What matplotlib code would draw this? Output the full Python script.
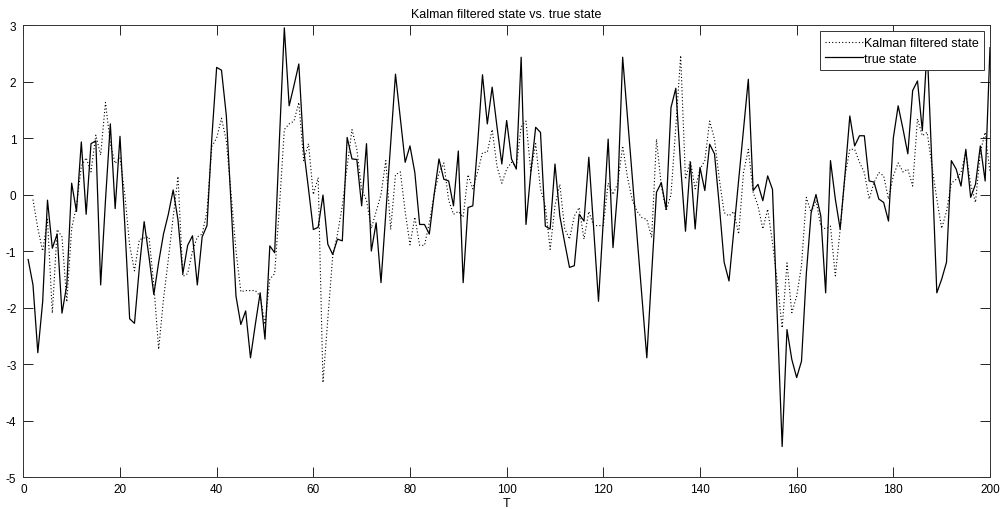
import numpy as np
import matplotlib.pyplot as plt

t = np.arange(1, 201)

# true state
true_state = [
    -1.15, -1.6, -2.8, -1.9, -0.1, -0.95, -0.7, -2.1, -1.6, 0.2,
    -0.3, 0.93, -0.35, 0.9, 0.95, -1.6, -0.1, 1.25, -0.25, 1.03,
    -0.55, -2.2, -2.28, -1.3, -0.48, -1.1, -1.77, -1.2, -0.7, -0.35,
    0.08, -0.45, -1.4, -0.9, -0.73, -1.6, -0.75, -0.55, 1.0, 2.25,
    2.2, 1.4, -0.2, -1.8, -2.3, -2.06, -2.89, -2.3, -1.74, -2.56,
    -0.91, -1.03, 1.0, 2.95, 1.57, 1.93, 2.31, 0.8, 0.1, -0.62,
    -0.58, -0.01, -0.88, -1.06, -0.79, -0.82, 1.01, 0.63, 0.62, -0.2,
    0.9, -1.0, -0.5, -1.56, -0.33, 0.9, 2.13, 1.35, 0.57, 0.86,
    0.39, -0.53, -0.53, -0.7, 0.0, 0.63, 0.27, 0.24, -0.2, 0.77,
    -1.56, -0.23, -0.2, 0.9, 2.12, 1.25, 1.9, 1.2, 0.54, 1.31,
    0.63, 0.45, 2.43, -0.53, 0.39, 1.19, 1.1, -0.56, -0.61, 0.54,
    -0.38, -0.85, -1.29, -1.26, -0.35, -0.47, 0.66, -0.6, -1.89, -0.44,
    0.98, -0.94, 0.1, 2.43, 1.37, 0.3, -0.75, -1.8, -2.89, -1.4,
    0.04, 0.21, -0.26, 1.54, 1.88, 0.5, -0.65, 0.57, -0.61, 0.48,
    0.07, 0.89, 0.72, -0.2, -1.2, -1.53, -0.64, 0.26, 1.15, 2.04,
    0.07, 0.18, -0.11, 0.33, 0.09, -2.2, -4.46, -2.39, -2.92, -3.24,
    -2.95, -1.4, -0.32, 0.0, -0.38, -1.74, 0.6, -0.08, -0.61, 0.35,
    1.39, 0.86, 1.04, 1.04, 0.24, 0.22, -0.08, -0.14, -0.47, 1.0,
    1.57, 1.16, 0.72, 1.84, 2.01, 1.13, 2.6, 0.5, -1.74, -1.5,
    -1.2, 0.6, 0.45, 0.15, 0.8, -0.05, 0.18, 0.86, 0.24, 2.6,
]

# Kalman filtered state (no value drawn at T=1)
kalman_state = [
    np.nan, -0.09, -0.6, -1.0, -0.44, -2.1, -0.62, -0.75, -1.9, -0.6,
    -0.2, 0.5, 0.65, 0.4, 1.05, 0.7, 1.63, 0.9, 0.55, 0.65,
    0.0, -0.9, -1.35, -0.8, -0.77, -0.75, -1.6, -2.74, -1.85, -1.15,
    -0.4, 0.32, -1.45, -1.4, -1.0, -0.75, -0.7, -0.3, 0.85, 1.0,
    1.35, 0.95, 0.0, -1.0, -1.72, -1.7, -1.7, -1.7, -1.8, -2.3,
    -1.5, -1.4, -0.2, 1.15, 1.25, 1.3, 1.63, 0.6, 0.9, 0.0,
    0.3, -3.33, -2.2, -1.1, -0.7, -0.2, 0.5, 1.15, 0.8, 0.09,
    -0.1, -0.6, -0.3, 0.0, 0.6, -0.62, 0.35, 0.4, -0.3, -0.89,
    -0.4, -0.9, -0.9, -0.5, 0.0, 0.38, 0.56, -0.1, -0.35, -0.3,
    -0.4, 0.35, 0.1, 0.4, 0.74, 0.75, 1.15, 0.5, 0.2, 0.45,
    0.57, 0.5, 1.2, 1.3, 0.4, 0.9, 0.1, -0.2, -0.97, -0.2,
    0.18, -0.6, -0.79, -0.38, -0.23, -0.79, -0.3, -0.55, -0.55, -0.55,
    0.2, 0.0, 0.2, 0.86, 0.3, -0.1, -0.3, -0.41, -0.44, -0.76,
    0.98, 0.15, -0.29, 0.0, 1.2, 2.46, 0.27, 0.6, 0.1, 0.45,
    0.6, 1.3, 0.98, 0.27, -0.32, -0.38, -0.3, -0.7, 0.39, 0.8,
    0.04, -0.2, -0.61, -0.26, -0.85, -1.56, -2.36, -1.21, -2.09, -1.8,
    -1.26, -0.05, -0.32, -0.1, -0.56, -0.61, -0.56, -1.44, -0.62, 0.33,
    0.8, 0.8, 0.57, 0.39, -0.08, 0.21, 0.39, 0.33, -0.08, 0.33,
    0.56, 0.4, 0.45, 0.15, 1.34, 1.04, 1.1, 0.5, -0.08, -0.6,
    -0.3, 0.2, 0.27, 0.39, 0.75, 0.18, -0.14, 0.75, 1.1, 0.39,
]

x_ticks = list(range(0, 201, 20))
y_ticks = list(range(-5, 4))

plt.rcParams['font.family'] = ['Liberation Sans', 'DejaVu Sans']
plt.rcParams['axes.unicode_minus'] = False

fig = plt.figure(figsize=(10.01, 5.10), dpi=100)
ax = fig.add_axes([0.0233, 0.0627, 0.9657, 0.8863])

ax.plot(t, kalman_state, color='k', linestyle=(0, (1, 2)), linewidth=0.8, label='Kalman filtered state')
ax.plot(t, true_state, color='k', linewidth=0.9, label='true state')

ax.set_xlim(0, 200)
ax.set_ylim(-5, 3)
ax.set_xticks(x_ticks)
ax.set_yticks(y_ticks)
ax.tick_params(direction='in', length=7, width=0.6, top=True, right=True, labelsize=8.5)
ax.tick_params(axis='y', pad=5)
ax.tick_params(axis='x', pad=4)
for s in ax.spines.values():
    s.set_linewidth(0.7)
    s.set_color('#333333')

ax.set_title('Kalman filtered state vs. true state', fontsize=9, pad=6)
ax.set_xlabel('T', fontsize=9, labelpad=2)

leg = ax.legend(loc='upper right', bbox_to_anchor=(0.9941, 0.986), borderaxespad=0,
                fancybox=False, edgecolor='#333333', fontsize=9, handlelength=3.0,
                handletextpad=0.1, borderpad=0.45, labelspacing=0.3, framealpha=1)
leg.get_frame().set_linewidth(0.7)

fig.savefig('out.png', dpi=100)
